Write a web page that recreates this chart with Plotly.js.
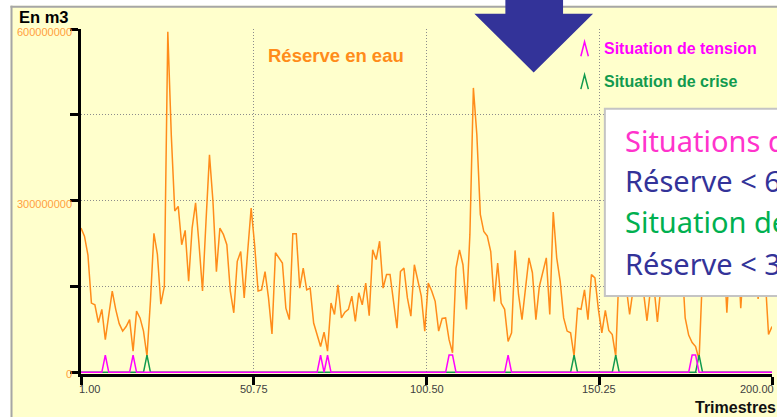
<!DOCTYPE html>
<html>
<head>
<meta charset="utf-8">
<script src="https://cdn.plot.ly/plotly-3.0.1.min.js"></script>
<style>
html, body { margin: 0; padding: 0; background: #ffffff; }
#chart { width: 777px; height: 417px; }
</style>
</head>
<body>
<div id="chart"></div>
<script>
// ---- Data ----
// Water reserve per quarter, in millions of m3 (quarters 1..200)
const reserveMillionsM3 = [
  252, 238, 205, 121, 118, 87, 110, 57, 100, 142,
  110, 85, 72, 80, 92, 37, 107, 95, 72, 28,
  125, 243, 206, 119, 150, 595, 415, 282, 290, 223,
  248, 159, 252, 296, 223, 142, 264, 380, 299, 176,
  252, 241, 223, 142, 104, 194, 211, 130, 211, 287,
  223, 142, 144, 176, 130, 67, 209, 200, 191, 112,
  92, 242, 242, 147, 182, 144, 147, 86, 64, 45,
  70, 37, 121, 101, 153, 95, 105, 110, 133, 89,
  139, 118, 156, 99, 214, 197, 229, 147, 171, 171,
  124, 77, 176, 182, 130, 98, 188, 159, 133, 72,
  156, 142, 124, 72, 94, 95, 57, 34, 182, 214,
  188, 110, 241, 497, 415, 276, 246, 238, 211, 124,
  191, 121, 110, 54, 69, 213, 136, 92, 142, 200,
  174, 92, 150, 178, 200, 101, 280, 200, 159, 95,
  72, 69, 28, 112, 110, 144, 92, 171, 165, 110,
  69, 108, 73, 66, 28, 185, 210, 150, 101, 145,
  230, 175, 140, 90, 145, 150, 88, 150, 240, 185,
  260, 210, 195, 200, 95, 65, 52, 45, 22, 175,
  225, 260, 195, 240, 205, 225, 104, 210, 185, 240,
  112, 205, 235, 180, 215, 128, 205, 170, 66, 80
];
// Quarters flagged as "tension" and "crise"
const tensionQuarters = [8, 16, 70, 72, 107, 108, 124, 177, 178];
const crisisQuarters = [20, 143, 155, 179];
const flagHeightM3 = 30000000;

const xTickValues = [1, 50.75, 100.5, 150.25, 200];
const xTickLabels = ['1.00', '50.75', '100.50', '150.25', '200.00'];
const yTickValues = [0, 150000000, 300000000, 450000000, 600000000];
const yTickLabels = ['0', '', '300000000', '', '600000000'];

const legendLabels = ['Situation de tension', 'Situation de crise'];
const boxLines = ['Situations de tension', 'Réserve &lt; 60 millions de m3', 'Situation de crise', 'Réserve &lt; 30 millions de m3'];

// ---- Build series ----
const quarters = reserveMillionsM3.map((_, i) => i + 1);
const reserve = reserveMillionsM3.map(v => v * 1e6);
const tension = quarters.map(q => tensionQuarters.includes(q) ? flagHeightM3 : 0);
const crisis = quarters.map(q => crisisQuarters.includes(q) ? flagHeightM3 : 0);

// ---- Geometry (pixels) ----
const W = 777, H = 417;
const L = 80.5, R = 771.7, T = 29.3, B = 374.4;
const px = x => (x - L) / (R - L);
const py = y => (B - y) / (B - T);

const ORANGE = '#FF8C1A';
const MAGENTA = '#FF00FF';
const GREEN = '#119A4E';
const NAVY = '#333399';
const SANS = 'Liberation Sans, Arial, sans-serif';

const traces = [
  { x: quarters, y: reserve, type: 'scatter', mode: 'lines', line: { color: ORANGE, width: 1.5 }, hoverinfo: 'skip' },
  { x: quarters, y: crisis, type: 'scatter', mode: 'lines', line: { color: GREEN, width: 1.5 }, hoverinfo: 'skip' },
  { x: quarters, y: tension, type: 'scatter', mode: 'lines', line: { color: MAGENTA, width: 1.5 }, hoverinfo: 'skip' }
];

function pathFrom(points) {
  return 'M' + points.map(p => px(p[0]) + ',' + py(p[1])).join(' L') + ' Z';
}
function openPath(points) {
  return 'M' + points.map(p => px(p[0]) + ',' + py(p[1])).join(' L');
}

const shapes = [
  // white surroundings and grey frame
  { type: 'rect', xref: 'paper', yref: 'paper', x0: px(-2), x1: px(780), y0: py(-2), y1: py(6), fillcolor: '#ffffff', line: { width: 0 }, layer: 'above' },
  { type: 'rect', xref: 'paper', yref: 'paper', x0: px(-2), x1: px(10), y0: py(-2), y1: py(420), fillcolor: '#ffffff', line: { width: 0 }, layer: 'above' },
  { type: 'line', xref: 'paper', yref: 'paper', x0: px(10), x1: px(780), y0: py(7), y1: py(7), line: { color: '#A6A6A6', width: 2 }, layer: 'above' },
  { type: 'line', xref: 'paper', yref: 'paper', x0: px(11), x1: px(11), y0: py(6), y1: py(420), line: { color: '#A6A6A6', width: 2 }, layer: 'above' },
  // big down arrow
  { type: 'path', xref: 'paper', yref: 'paper', layer: 'above', fillcolor: NAVY, line: { width: 0 },
    path: pathFrom([[505, -3], [562.7, -3], [562.7, 14], [592.7, 14], [533.3, 72.7], [474, 14], [505, 14]]) },
  // white text box
  { type: 'rect', xref: 'paper', yref: 'paper', layer: 'above', x0: px(604.5), x1: px(800), y0: py(296.5), y1: py(109),
    fillcolor: '#ffffff', line: { color: '#C4C4C4', width: 2 } },
  // legend glyphs
  { type: 'path', xref: 'paper', yref: 'paper', layer: 'above', line: { color: MAGENTA, width: 1.5 },
    path: openPath([[580.5, 56.5], [584.2, 42], [588, 56.5]]) },
  { type: 'path', xref: 'paper', yref: 'paper', layer: 'above', line: { color: GREEN, width: 1.5 },
    path: openPath([[580.5, 89.5], [584.2, 75], [588, 89.5]]) }
];

const annotations = [];
function addText(text, x, yCenter, anchor, size, color, family) {
  annotations.push({ text: text, xref: 'paper', yref: 'paper', x: px(x), y: py(yCenter), xanchor: anchor, yanchor: 'middle',
    showarrow: false, borderpad: 0, borderwidth: 0, font: { size: size, color: color, family: family || SANS } });
}
addText('<b>En m3</b>', 18, 17.5, 'left', 16.5, '#000000');
addText('<b>Trimestres</b>', 776, 407.5, 'right', 16, '#111111');
addText('<b>Réserve en eau</b>', 268, 55.5, 'left', 18.5, ORANGE);
addText('<b>' + legendLabels[0] + '</b>', 604, 48.8, 'left', 16, MAGENTA);
addText('<b>' + legendLabels[1] + '</b>', 604, 81.8, 'left', 16, GREEN);
const boxColors = ['#FF33CC', NAVY, '#00B050', NAVY];
const boxCenters = [140.5, 180.5, 222, 263.7];
boxLines.forEach((t, i) => addText(t, 625, boxCenters[i], 'left', 29, boxColors[i], 'Noto Sans, Open Sans, sans-serif'));

// x tick labels (end labels kept inside the axis span, as in the reference)
xTickValues.forEach((v, i) => {
  const last = xTickValues.length - 1;
  annotations.push({ text: xTickLabels[i], xref: 'x', yref: 'paper', x: v, y: py(389.5), yanchor: 'middle',
    xanchor: i === 0 ? 'left' : (i === last ? 'right' : 'center'), xshift: i === 0 ? -2 : (i === last ? 2 : 0),
    showarrow: false, borderpad: 0, borderwidth: 0, font: { size: 11, color: '#404040', family: SANS } });
});
// y tick labels
const yLabelShift = [-1.7, 0, -3, 0, -3.2];
yTickValues.forEach((v, i) => {
  if (!yTickLabels[i]) return;
  annotations.push({ text: yTickLabels[i], xref: 'paper', yref: 'y', x: px(71.5), y: v, yshift: yLabelShift[i],
    xanchor: 'right', yanchor: 'middle', showarrow: false, borderpad: 0, borderwidth: 0,
    font: { size: 11, color: '#FFA040', family: SANS } });
});

const layout = {
  width: W, height: H, autosize: false,
  margin: { l: L, r: W - R, t: T, b: H - B, pad: 0 },
  paper_bgcolor: '#FFFFCC', plot_bgcolor: '#FFFFCC',
  showlegend: false,
  xaxis: {
    range: [1, 200], tickvals: xTickValues, showticklabels: false,
    ticks: 'outside', ticklen: 8, tickwidth: 3, tickcolor: '#000000',
    showline: true, linewidth: 3, linecolor: '#000000',
    showgrid: true, gridcolor: '#8C8C8C', gridwidth: 1, griddash: '1px,2px', zeroline: false, fixedrange: true
  },
  yaxis: {
    range: [-3000000, 600000000], tickvals: yTickValues, showticklabels: false,
    ticks: 'outside', ticklen: 8, tickwidth: 3, tickcolor: '#000000',
    showline: true, linewidth: 3, linecolor: '#000000',
    showgrid: true, gridcolor: '#8C8C8C', gridwidth: 1, griddash: '1px,2px', zeroline: false, fixedrange: true
  },
  shapes: shapes,
  annotations: annotations
};

Plotly.newPlot('chart', traces, layout, { staticPlot: true, displayModeBar: false });
</script>
</body>
</html>
